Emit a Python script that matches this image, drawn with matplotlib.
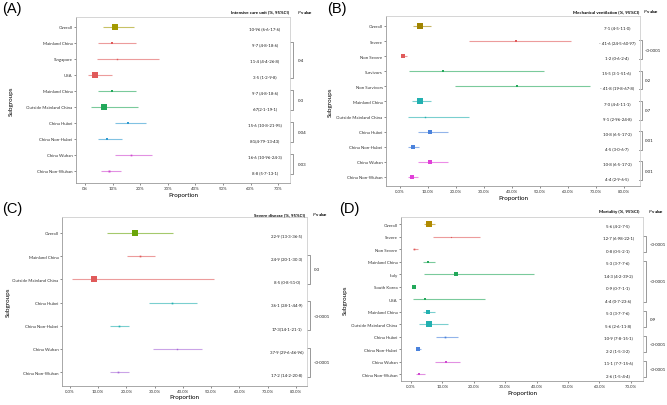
"""Four-panel forest plot: ICU, ventilation, severe disease, mortality by subgroup."""
import matplotlib
matplotlib.use("Agg")  # Non-interactive backend
import matplotlib.pyplot as plt
import matplotlib.transforms as mtransforms
from matplotlib.colors import to_rgba
from matplotlib.ticker import PercentFormatter, MultipleLocator

plt.rcParams["font.family"] = ["Lato", "DejaVu Sans"]

# (A) Intensive care unit
icu_labels = ["Overall", "Mainland China", "Singapore", "USA", "Mainland China",
              "Outside Mainland China", "China Hubei", "China Non-Hubei",
              "China Wuhan", "China Non-Wuhan"]
icu_est = [10.96, 9.7, 11.4, 3.5, 9.7, 6.7, 15.6, 8.1, 16.6, 8.8]
icu_lo = [6.6, 4.8, 4.4, 1.2, 4.8, 2.1, 10.8, 4.79, 10.96, 5.7]
icu_hi = [17.6, 18.6, 26.8, 9.8, 18.6, 19.1, 21.95, 13.43, 24.3, 13.1]
icu_text = ["10·96 (6·6-17·6)", "9·7 (4·8-18·6)", "11·4 (4·4-26·8)", "3·5 (1·2-9·8)",
            "9·7 (4·8-18·6)", "6·7(2·1-19·1)", "15·6 (10·8-21·95)", "8·1(4·79-13·43)",
            "16·6 (10·96-24·3)", "8·8 (5·7-13·1)"]
icu_groups = [(1, 3), (4, 5), (6, 7), (8, 9)]
icu_pvalues = ["0·4", "0·3", "0·04", "0·03"]

# (B) Mechanical ventilation
mv_labels = ["Overall", "Severe", "Non Severe", "Survivors", "Non Survivors",
             "Mainland China", "Outside Mainland China", "China Hubei",
             "China Non-Hubei", "China Wuhan", "China Non-Wuhan"]
mv_est = [7.1, 41.6, 1.2, 15.5, 41.8, 7.0, 9.1, 10.8, 4.5, 10.8, 4.4]
mv_lo = [4.5, 24.5, 0.6, 3.1, 19.8, 4.4, 2.96, 6.5, 3.0, 6.5, 2.9]
mv_hi = [11.0, 60.97, 2.4, 51.6, 67.8, 11.1, 24.8, 17.2, 6.7, 17.2, 6.5]
mv_text = ["7·1 (4·5-11·0)", "- 41·6 (24·5-60·97)", "1·2 (0·6-2·4)", "15·5 (3·1-51·6)",
           "- 41·8 (19·8-67·8)", "7·0 (4·4-11·1)", "9·1 (2·96-24·8)", "10·8 (6·5-17·2)",
           "4·5 (3·0-6·7)", "10·8 (6·5-17·2)", "4·4 (2·9-6·5)"]
mv_groups = [(1, 2), (3, 4), (5, 6), (7, 8), (9, 10)]
mv_pvalues = ["<0·0001", "0·2", "0·7", "0·01", "0·01"]

# (C) Severe disease
sev_labels = ["Overall", "Mainland China", "Outside Mainland China", "China Hubei",
              "China Non-Hubei", "China Wuhan", "China Non-Wuhan"]
sev_est = [22.9, 24.9, 8.5, 36.1, 17.3, 37.9, 17.2]
sev_lo = [13.3, 20.1, 0.8, 28.1, 14.1, 29.6, 14.2]
sev_hi = [36.5, 30.3, 51.0, 44.9, 21.1, 46.96, 20.8]
sev_text = ["22·9 (13·3-36·5)", "24·9 (20·1-30·3)", "8·5 (0·8-51·0)", "36·1 (28·1-44·9)",
            "17·3(14·1-21·1)", "37·9 (29·6-46·96)", "17·2 (14·2-20·8)"]
sev_groups = [(1, 2), (3, 4), (5, 6)]
sev_pvalues = ["0·3", "<0·0001", "<0·0001"]

# (D) Mortality
mort_labels = ["Overall", "Severe", "Non Severe", "Mainland China", "Italy",
               "South Korea", "USA", "Mainland China", "Outside Mainland China",
               "China Hubei", "China Non-Hubei", "China Wuhan", "China Non-Wuhan"]
mort_est = [5.6, 12.7, 0.8, 5.3, 14.3, 0.9, 4.4, 5.3, 5.6, 10.9, 2.2, 11.1, 2.6]
mort_lo = [4.2, 6.98, 0.5, 3.7, 4.2, 0.7, 0.7, 3.7, 2.6, 7.8, 1.5, 7.7, 1.5]
mort_hi = [7.5, 22.1, 2.1, 7.6, 39.2, 1.1, 23.6, 7.6, 11.8, 15.1, 3.2, 15.6, 4.4]
mort_text = ["5·6 (4·2-7·5)", "12·7 (6·98-22·1)", "0·8 (0·5-2·1)", "5·3 (3·7-7·6)",
             "14·3 (4·2-39·2)", "0·9 (0·7-1·1)", "4·4 (0·7-23·6)", "5·3 (3·7-7·6)",
             "5·6 (2·6-11·8)", "10·9 (7·8-15·1)", "2·2 (1·5-3·2)", "11·1 (7·7-15·6)",
             "2·6 (1·5-4·4)"]
mort_groups = [(1, 2), (3, 6), (7, 8), (9, 10), (11, 12)]
mort_pvalues = ["<0·0001", "<0·0001", "0·9", "<0·0001", "<0·0001"]

# Colours
OLIVE = "#a39a00"
RED = "#e05a5a"
GREEN = "#22a85a"
TEAL = "#22b0b0"
BLUE = "#4a82dc"
MAGENTA = "#d048d0"


def draw_panel(fig, rect, letter, header, labels, est, lo, hi, texts, groups,
               pvalues, colors, sizes, xlim, ylim, decimals, cap,
               text_x, head_y, head_x, p_head_x, bracket_x, p_x, ylab_x, xlab_y):
    """Draw one forest-plot panel."""
    ax = fig.add_axes(rect)
    rows = list(range(len(labels)))
    for i in rows:
        ax.errorbar(est[i], i, xerr=[[est[i] - lo[i]], [hi[i] - est[i]]],
                    fmt="s", color=colors[i], ms=sizes[i], mew=0,
                    ecolor=to_rgba(colors[i], 0.6), elinewidth=0.8,
                    capsize=cap, capthick=0.8, zorder=3)

    ax.set_xlim(*xlim)
    ax.set_ylim(*ylim)
    ax.set_yticks(rows)
    ax.set_yticklabels(labels, fontsize=3.2)
    ax.xaxis.set_major_locator(MultipleLocator(10))
    ax.xaxis.set_major_formatter(PercentFormatter(xmax=100, decimals=decimals))
    ax.tick_params(axis="both", length=1.5, width=0.4, pad=1, colors="#333333",
                   labelsize=3.2)
    for name, sp in ax.spines.items():
        sp.set_linewidth(0.6)
        sp.set_color("#9a9a9a" if name in ("left", "bottom") else "#cfcfcf")

    ax.set_ylabel("Subgroups", fontsize=4.5)
    ax.yaxis.set_label_coords(ylab_x, 0.5)
    ax.set_xlabel("Proportion", fontsize=4.5, va="top")
    ax.xaxis.set_label_coords(0.5, xlab_y)

    blend = mtransforms.blended_transform_factory(ax.transAxes, ax.transData)
    for i in rows:
        ax.text(text_x, i + 0.1, texts[i], transform=blend, ha="center",
                va="center", fontsize=3.2, color="#222222")

    ax.text(head_x, head_y, header, transform=ax.transAxes, ha="center",
            va="center", fontsize=3.2, fontweight="bold")
    ax.text(p_head_x, head_y, r"$\mathit{P}$ value", transform=ax.transAxes,
            ha="center", va="center", fontsize=3.2, fontweight="bold")

    tick = 0.012
    for (r0, r1), p in zip(groups, pvalues):
        y0, y1 = r0 - 0.05, r1 + 0.2
        ax.plot([bracket_x - tick, bracket_x, bracket_x, bracket_x - tick],
                [y0, y0, y1, y1], transform=blend, clip_on=False,
                color="#888888", lw=0.6)
        ax.text(p_x, (y0 + y1) / 2, p, transform=blend, ha="left", va="center",
                fontsize=3.2, color="#222222")

    # panel letter
    fig.text(letter[1], letter[2], letter[0], fontsize=10.5,
             family="Liberation Sans", ha="left", va="top")
    return ax


fig = plt.figure(figsize=(6.67, 4.06), dpi=100)

draw_panel(fig, [0.1139, 0.5468, 0.3208, 0.4089], ("(A)", 0.003, 0.995),
           "Intensive care unit (%, 95%CI)",
           icu_labels, icu_est, icu_lo, icu_hi, icu_text, icu_groups, icu_pvalues,
           [OLIVE, RED, RED, RED, GREEN, GREEN, "#2e9ad0", "#2e9ad0", MAGENTA, MAGENTA],
           [4.5, 1.8, 1.0, 4.5, 1.8, 5.0, 1.6, 1.6, 1.2, 1.4],
           (-3.3, 74.3), (9.75, -0.62), 0, 2.8,
           0.883, 1.036, 0.86, 1.07, 1.014, 1.037, -0.29, -0.055)

draw_panel(fig, [0.5787, 0.5394, 0.3808, 0.4187], ("(B)", 0.490, 0.995),
           "Mechanical ventilation (%, 95%CI)",
           mv_labels, mv_est, mv_lo, mv_hi, mv_text, mv_groups, mv_pvalues,
           ["#a08400", RED, RED, GREEN, GREEN, TEAL, TEAL, BLUE, BLUE,
            "#e040d8", "#e040d8"],
           [4.0, 1.6, 2.2, 1.6, 1.6, 4.0, 1.0, 2.4, 2.4, 2.4, 2.4],
           (-5.0, 85.8), (10.6, -0.66), 1, 2.3,
           0.909, 1.03, 0.866, 1.043, 1.008, 1.02, -0.21, -0.055)

draw_panel(fig, [0.0930, 0.0468, 0.3673, 0.4163], ("(C)", 0.003, 0.503),
           "Severe disease (%, 95%CI)",
           sev_labels, sev_est, sev_lo, sev_hi, sev_text, sev_groups, sev_pvalues,
           ["#6aa50a", RED, RED, TEAL, TEAL, "#a868d8", "#a868d8"],
           [4.0, 1.2, 4.0, 1.2, 1.2, 1.0, 1.2],
           (-2.8, 84.0), (6.6, -0.69), 1, 3.5,
           0.918, 1.018, 0.886, 1.053, 1.012, 1.029, -0.21, -0.05)

draw_panel(fig, [0.6012, 0.0591, 0.3628, 0.4039], ("(D)", 0.508, 0.503),
           "Mortality (%, 95%CI)",
           mort_labels, mort_est, mort_lo, mort_hi, mort_text, mort_groups,
           mort_pvalues,
           ["#b08a00", RED, RED, GREEN, GREEN, GREEN, GREEN, TEAL, TEAL,
            BLUE, BLUE, MAGENTA, MAGENTA],
           [4.0, 0.8, 1.2, 2.0, 3.2, 2.2, 1.6, 2.4, 4.0, 1.2, 2.4, 1.6, 2.0],
           (-3.2, 73.9), (12.56, -0.56), 1, 2.0,
           0.897, 1.037, 0.90, 1.054, 1.012, 1.029, -0.22, -0.055)

fig.savefig("out.png", dpi=100)
plt.close(fig)
